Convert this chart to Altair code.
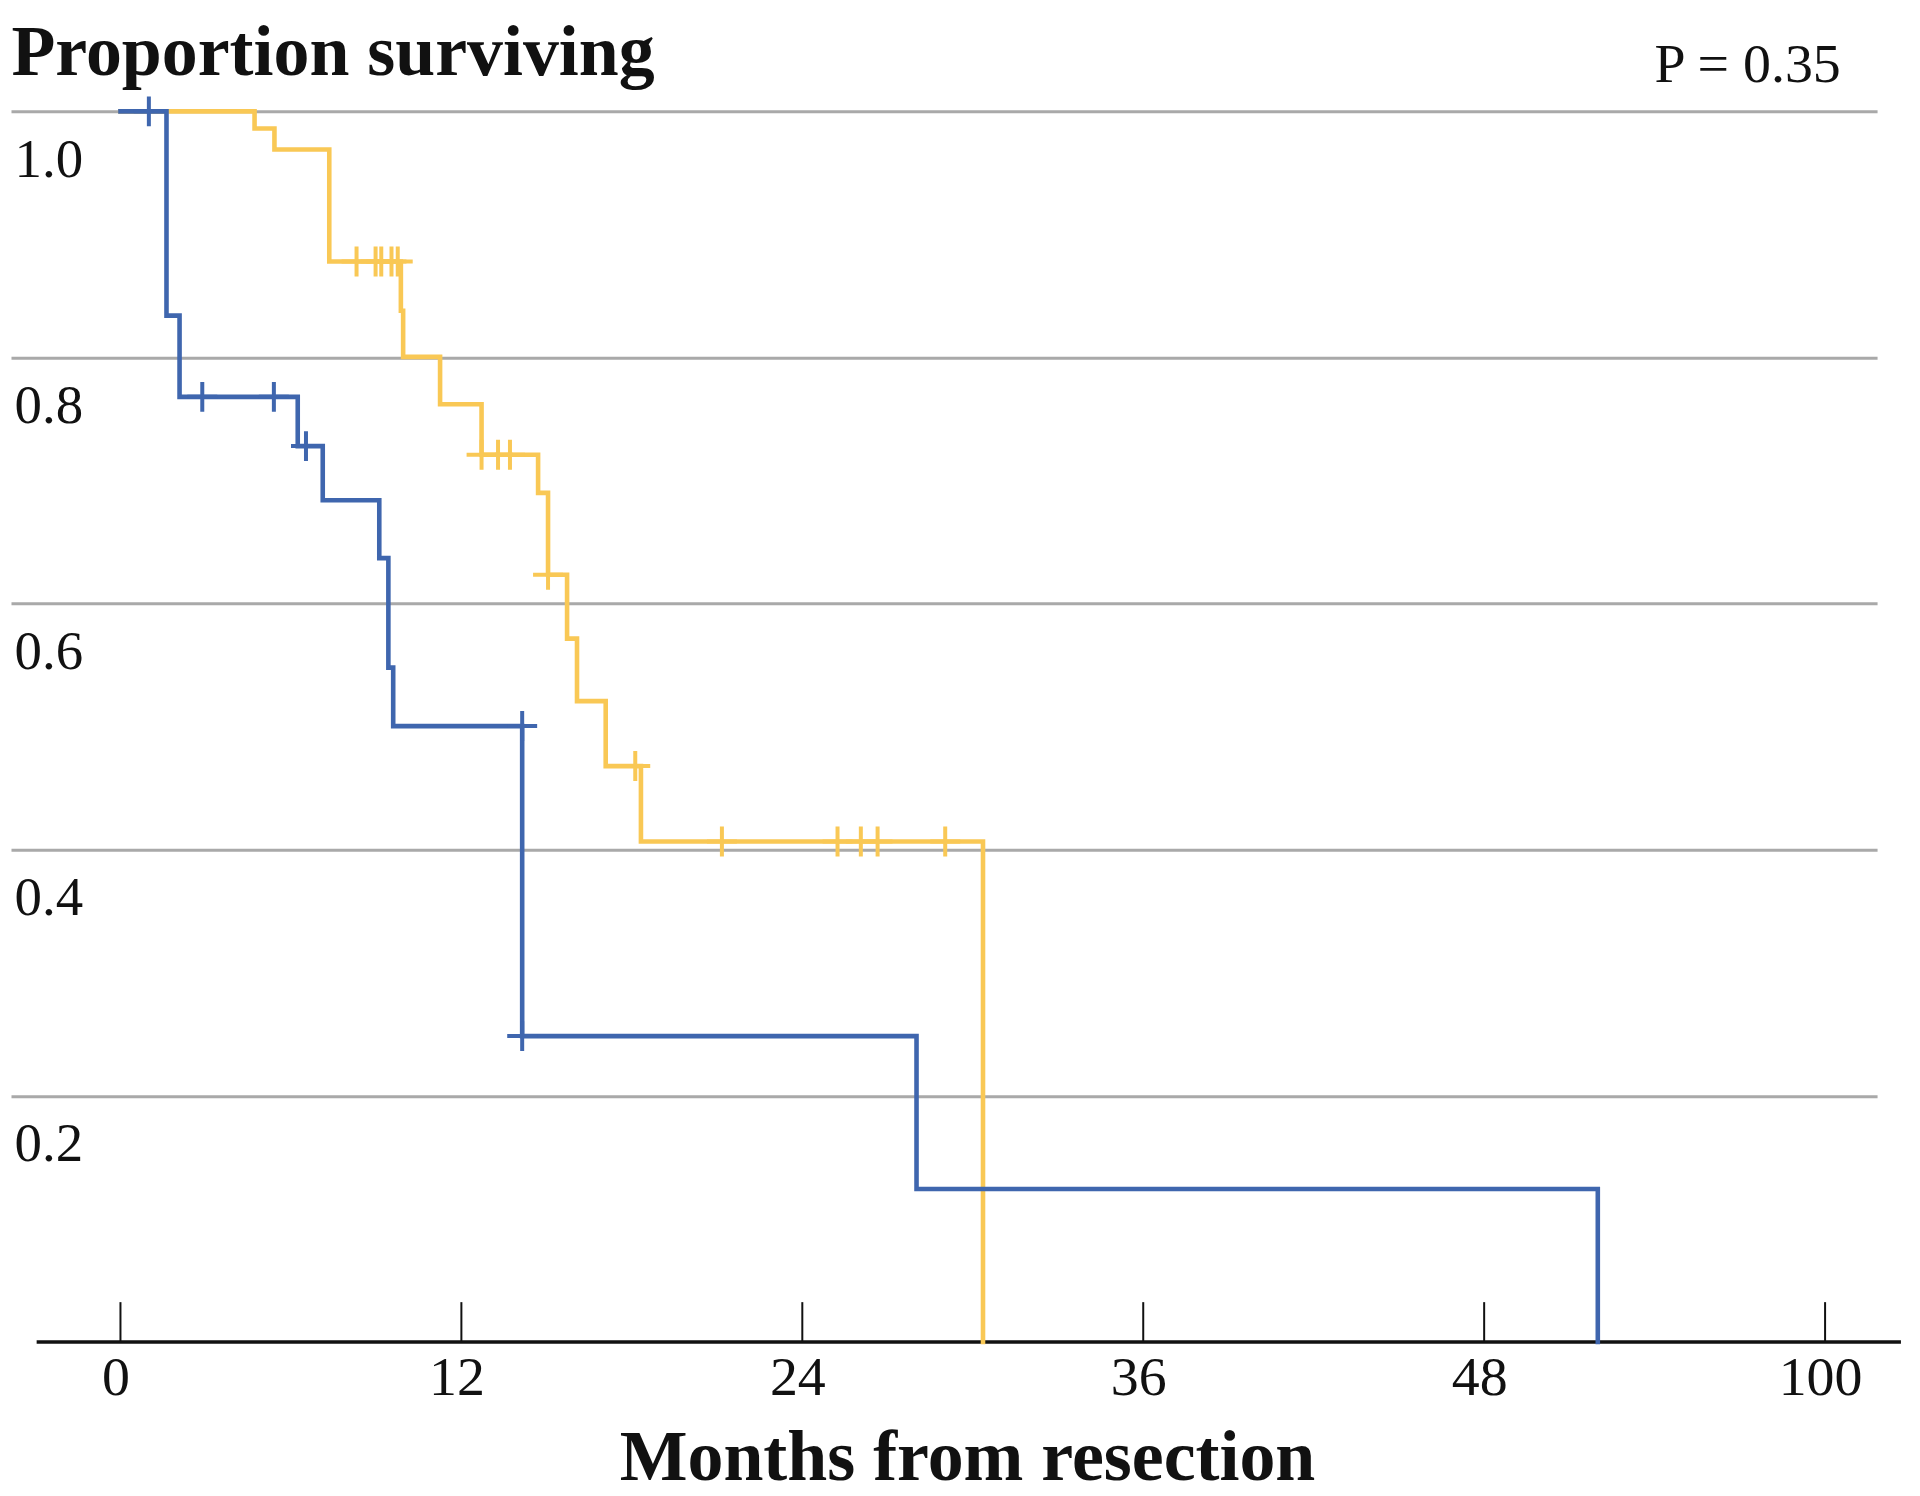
import altair as alt
import pandas as pd

# ---------------- data (months from resection, proportion surviving) ----------------
blue_times = [0, 1.62, 2.08, 6.24, 7.12, 9.11, 9.43, 9.60, 14.14, 28.02, 52.0]
blue_surv = [1.0, 0.834, 0.768, 0.728, 0.684, 0.637, 0.548, 0.5005, 0.2486, 0.1244, 0.0]
blue_cens_times = [1.0, 2.88, 5.40, 6.53, 14.14, 14.14]
blue_cens_surv = [1.0, 0.768, 0.768, 0.728, 0.5005, 0.2486]

yellow_times = [0, 4.72, 5.42, 7.35, 9.87, 9.95, 11.25, 12.71, 14.70, 15.05, 15.72, 16.07, 17.08, 18.32, 30.36]
yellow_surv = [1.0, 0.986, 0.969, 0.878, 0.838, 0.8005, 0.762, 0.721, 0.690, 0.6235, 0.5716, 0.5208, 0.468, 0.4067, 0.0]
yellow_cens_times = [8.31, 8.98, 9.18, 9.54, 9.76, 12.71, 13.29, 13.71, 15.05, 18.12, 21.17, 25.24, 26.06, 26.65, 29.03]
yellow_cens_surv = [0.878, 0.878, 0.878, 0.878, 0.878, 0.721, 0.721, 0.721, 0.6235, 0.468,
                    0.4067, 0.4067, 0.4067, 0.4067, 0.4067]

x_tick_values = [0, 12, 24, 36, 48, 60]
x_tick_labels = ["0", "12", "24", "36", "48", "100"]
y_tick_values = [0.2, 0.4, 0.6, 0.8, 1.0]

title_text = "Proportion surviving"
x_title_text = "Months from resection"
p_value_text = "P = 0.35"

# ---------------- styling ----------------
FONT = "Liberation Serif"
BLUE = "#3f66ae"
YELLOW = "#f9c855"
TEXT = "#111111"
W, H = 1870, 1233.3

label_expr = " : ".join(
    f"datum.value == {v} ? '{l}'" for v, l in zip(x_tick_values, x_tick_labels)
) + " : ''"

x_scale = alt.Scale(domain=[-3.853, 61.83], nice=False, zero=False)
y_scale = alt.Scale(domain=[0, 1], nice=False, zero=False)

x_axis = alt.Axis(
    values=x_tick_values, labelExpr=label_expr, domain=False, ticks=False, tickSize=0,
    grid=False, labelFont=FONT, labelFontSize=56, labelColor=TEXT, labelPadding=53,
    labelBaseline="alphabetic", labelOffset=-5, labelFlush=False, labelOverlap=False,
    title=x_title_text, titleFont=FONT, titleFontSize=72, titleFontWeight="bold",
    titleColor=TEXT, titleX=958, titleY=138, titleAlign="center", titleBaseline="alphabetic",
)
y_axis = alt.Axis(
    values=y_tick_values, format=".1f", domain=False, ticks=False, tickSize=0,
    grid=True, gridColor="#a9a9a9", gridWidth=3, labelFont=FONT, labelFontSize=55,
    labelColor=TEXT, labelAlign="left", labelPadding=-3, labelBaseline="alphabetic",
    labelOffset=65, labelOverlap=False, labelFlush=False,
    title=title_text, titleAngle=0, titleX=0, titleY=-37, titleAlign="left",
    titleBaseline="alphabetic", titleFont=FONT, titleFontSize=72, titleFontWeight="bold",
    titleColor=TEXT,
)

X = alt.X("t:Q", scale=x_scale, axis=x_axis)
Y = alt.Y("s:Q", scale=y_scale, axis=y_axis)

blue_df = pd.DataFrame({"t": blue_times, "s": blue_surv})
yellow_df = pd.DataFrame({"t": yellow_times, "s": yellow_surv})
blue_c = pd.DataFrame({"t": blue_cens_times, "s": blue_cens_surv})
yellow_c = pd.DataFrame({"t": yellow_cens_times, "s": yellow_cens_surv})
ticks_df = pd.DataFrame({"t": x_tick_values})
p_df = pd.DataFrame({"label": [p_value_text]})

CROSS = "M-1,0H1M0,-1V1"

grid_base = alt.Chart(yellow_df).mark_line(opacity=0).encode(x=X, y=Y)

ticks = alt.Chart(ticks_df).mark_rule(color=TEXT, strokeWidth=2).encode(
    x=X, y=alt.value(H), y2=alt.value(H - 40)
)
axis_line = alt.Chart(p_df).mark_rule(color=TEXT, strokeWidth=3.5).encode(
    x=alt.datum(-2.95), x2=alt.datum(62.67), y=alt.value(H)
)

yellow_line = alt.Chart(yellow_df).mark_line(
    interpolate="step-after", color=YELLOW, strokeWidth=4.6, strokeCap="square"
).encode(x=X, y=Y)
blue_line = alt.Chart(blue_df).mark_line(
    interpolate="step-after", color=BLUE, strokeWidth=4.6, strokeCap="square"
).encode(x=X, y=Y)

yellow_cross = alt.Chart(yellow_c).mark_point(
    shape=CROSS, size=900, filled=False, color=YELLOW, strokeWidth=4, opacity=1
).encode(x=X, y=Y)
blue_cross = alt.Chart(blue_c).mark_point(
    shape=CROSS, size=900, filled=False, color=BLUE, strokeWidth=4, opacity=1
).encode(x=X, y=Y)

p_text = alt.Chart(p_df).mark_text(
    align="left", baseline="alphabetic", font=FONT, fontSize=56, color=TEXT
).encode(x=alt.value(1647), y=alt.value(-29), text="label:N")

chart = alt.layer(
    grid_base, ticks, axis_line, yellow_line, blue_line, yellow_cross, blue_cross, p_text
).properties(
    width=W, height=H,
    autosize=alt.AutoSizeParams(type="none"),
    padding={"left": 3, "top": 102, "right": 35, "bottom": 152},
    background="white",
).configure_view(stroke=None)

chart.save("out.html", embed_options={"renderer": "svg", "actions": False})
